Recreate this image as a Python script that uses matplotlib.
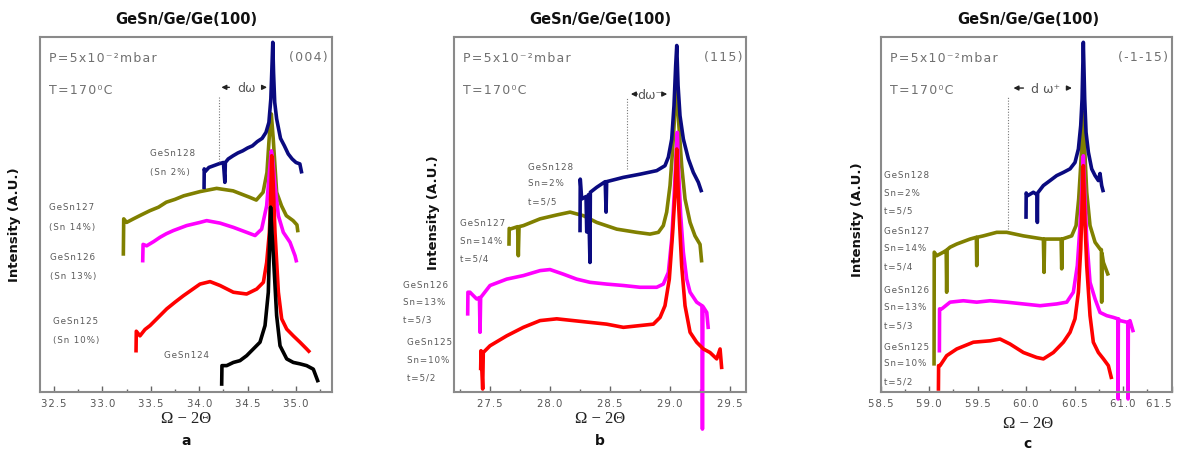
import matplotlib
matplotlib.use("Agg")
import matplotlib.pyplot as plt
from matplotlib.ticker import MultipleLocator

# ---------------- data (arbitrary intensity units) ----------------
# Panel a : (004)
a128_x = [34.05, 34.052, 34.06, 34.10, 34.15, 34.20, 34.25, 34.265, 34.27, 34.30, 34.35, 34.40, 34.45, 34.50,
          34.55, 34.60, 34.65, 34.69, 34.72, 34.74, 34.752, 34.76, 34.768, 34.78, 34.80, 34.84, 34.88,
          34.92, 34.96, 35.00, 35.04, 35.06]
a128_y = [57.1, 62.8, 62.0, 63.2, 63.7, 64.2, 64.6, 59.0, 64.6, 65.6, 66.5, 67.3, 67.9, 68.7,
          69.3, 70.5, 71.4, 73.1, 75.9, 82.5, 91.9, 98.5, 90.0, 81.6, 76.9, 71.4, 69.3,
          67.0, 65.6, 64.6, 64.2, 61.5]

a127_x = [33.216, 33.22, 33.25, 33.32, 33.40, 33.49, 33.58, 33.66, 33.75, 33.84, 34.01, 34.18, 34.35,
          34.52, 34.59, 34.66, 34.70, 34.72, 34.735, 34.745, 34.765, 34.80, 34.85, 34.90, 34.97,
          35.01, 35.02]
a127_y = [38.3, 48.7, 47.7, 48.7, 49.8, 51.0, 52.0, 53.4, 54.2, 55.2, 56.4, 57.3, 56.6,
          54.8, 54.0, 56.2, 61.8, 70.3, 76.0, 78.3, 71.2, 56.2, 52.4, 49.6, 48.2,
          47.0, 44.9]

a126_x = [33.416, 33.42, 33.457, 33.53, 33.595, 33.66, 33.733, 33.87, 34.008, 34.077, 34.215, 34.353,
          34.49, 34.577, 34.645, 34.697, 34.725, 34.745, 34.755, 34.783, 34.818, 34.869, 34.938,
          34.99, 35.007]
a126_y = [36.4, 41.5, 41.1, 42.3, 43.5, 44.5, 45.4, 46.8, 47.7, 48.2, 47.5, 46.3,
          44.9, 44.0, 45.8, 52.4, 61.8, 67.9, 66.5, 58.1, 49.6, 44.9, 42.1,
          38.3, 36.4]

a125_x = [33.347, 33.35, 33.388, 33.44, 33.492, 33.58, 33.664, 33.75, 33.836, 34.008, 34.112, 34.215,
          34.353, 34.49, 34.594, 34.663, 34.697, 34.725, 34.738, 34.749, 34.76, 34.783, 34.818,
          34.852, 34.904, 34.972, 35.041, 35.11, 35.145]
a125_y = [11.0, 17.0, 15.7, 17.5, 18.6, 21.0, 23.3, 25.2, 27.0, 30.3, 31.0, 29.9,
          28.0, 27.5, 28.9, 30.8, 36.4, 44.9, 54.3, 66.5, 62.0, 44.9, 28.0,
          20.5, 17.6, 15.7, 13.9, 12.0, 11.0]

a124_x = [34.232, 34.235, 34.284, 34.353, 34.421, 34.49, 34.559, 34.628, 34.68, 34.714, 34.73, 34.738,
          34.745, 34.772, 34.80, 34.835, 34.904, 34.972, 35.041, 35.11, 35.179, 35.23]
a124_y = [1.6, 7.3, 7.3, 8.2, 8.7, 10.1, 12.0, 13.9, 18.6, 28.0, 44.9, 52.0,
          48.0, 35.5, 21.4, 12.9, 9.2, 8.2, 7.8, 7.3, 6.3, 2.6]

# Panel b : (115)
b128_x = [28.25, 28.252, 28.264, 28.30, 28.306, 28.32, 28.333, 28.336, 28.389, 28.46, 28.467, 28.472,
          28.611, 28.75, 28.889, 28.958, 28.986, 29.014, 29.033, 29.047, 29.056, 29.067, 29.083,
          29.111, 29.153, 29.194, 29.236, 29.264]
b128_y = [44.9, 59.9, 54.3, 55.0, 45.0, 55.5, 36.4, 56.2, 57.6, 59.2, 50.6, 59.2,
          60.4, 61.3, 62.3, 63.7, 66.1, 71.2, 80.6, 91.9, 97.6, 86.3, 77.8,
          71.2, 65.6, 61.8, 59.0, 56.2]

b127_x = [27.658, 27.66, 27.667, 27.73, 27.736, 27.742, 27.778, 27.917, 28.056, 28.167, 28.278, 28.389,
          28.556, 28.722, 28.833, 28.903, 28.944, 28.972, 29.0, 29.022, 29.042, 29.056, 29.072,
          29.097, 29.125, 29.167, 29.208, 29.25, 29.264]
b127_y = [41.1, 46.0, 45.8, 46.5, 38.3, 46.5, 46.8, 48.7, 49.8, 50.6, 49.6, 47.7,
          45.8, 44.9, 44.4, 44.9, 46.8, 50.6, 58.1, 68.4, 79.7, 87.2, 75.9,
          63.7, 54.3, 47.7, 43.9, 41.5, 36.4]

b126_x = [27.314, 27.316, 27.333, 27.389, 27.412, 27.417, 27.422, 27.5, 27.639, 27.778, 27.917, 28.0,
          28.111, 28.222, 28.333, 28.472, 28.611, 28.75, 28.889, 28.944, 28.986, 29.014, 29.033,
          29.05, 29.061, 29.072, 29.089, 29.111, 29.139, 29.167, 29.222, 29.266, 29.27, 29.274,
          29.306, 29.319]
b126_y = [21.4, 28.0, 28.0, 26.1, 26.5, 16.7, 26.5, 29.9, 31.7, 32.7, 34.1, 34.4,
          33.1, 31.7, 30.8, 30.3, 29.9, 29.4, 29.4, 30.3, 33.6, 43.0, 54.3,
          66.5, 73.1, 61.8, 49.6, 39.3, 31.7, 28.0, 25.2, 24.2, -10.6, 24.0,
          22.3, 17.6]

b125_x = [27.422, 27.425, 27.439, 27.444, 27.5, 27.639, 27.778, 27.917, 28.056, 28.194, 28.333, 28.472,
          28.611, 28.75, 28.861, 28.917, 28.958, 28.994, 29.022, 29.042, 29.056, 29.072, 29.097,
          29.125, 29.167, 29.222, 29.278, 29.333, 29.389, 29.417, 29.431]
b125_y = [6.0, 11.5, 0.7, 11.0, 12.9, 15.7, 18.1, 20.0, 20.5, 20.0, 19.5, 19.0,
          18.1, 18.6, 19.0, 20.9, 24.2, 31.7, 44.9, 56.2, 68.4, 52.4, 35.5,
          24.2, 16.7, 13.9, 12.0, 11.0, 9.2, 12.0, 6.3]

# Panel c : (-1-15)
c128_x = [59.998, 60.0, 60.012, 60.074, 60.112, 60.115, 60.118, 60.177, 60.246, 60.314, 60.383, 60.452,
          60.503, 60.538, 60.562, 60.576, 60.589, 60.603, 60.617, 60.641, 60.675, 60.71, 60.744,
          60.761, 60.778, 60.796]
c128_y = [48.7, 56.0, 55.2, 56.2, 55.5, 47.7, 56.0, 58.1, 59.5, 60.9, 61.8, 62.8,
          64.6, 68.4, 75.0, 82.5, 98.5, 82.5, 73.1, 67.5, 62.8, 60.9, 59.5,
          61.5, 58.1, 56.2]

c127_x = [59.05, 59.052, 59.077, 59.146, 59.175, 59.18, 59.185, 59.215, 59.284, 59.421, 59.486, 59.49,
          59.494, 59.558, 59.696, 59.799, 59.971, 60.177, 60.184, 60.19, 60.314, 60.36, 60.366,
          60.372, 60.469, 60.514, 60.541, 60.562, 60.576, 60.589, 60.603, 60.624, 60.658, 60.71,
          60.761, 60.775, 60.778, 60.781, 60.796, 60.847]
c127_y = [7.3, 39.3, 38.3, 39.3, 39.8, 28.0, 40.0, 40.7, 41.6, 43.0, 43.5, 35.5,
          43.5, 43.9, 44.9, 44.9, 43.9, 43.0, 33.6, 43.0, 43.0, 43.0, 34.6,
          43.0, 43.9, 46.8, 54.3, 63.7, 71.2, 78.7, 68.4, 56.2, 46.8, 42.1,
          40.2, 40.0, 25.2, 39.0, 36.4, 32.7]

c126_x = [59.105, 59.107, 59.129, 59.215, 59.352, 59.49, 59.627, 59.799, 59.971, 60.143, 60.314, 60.418,
          60.486, 60.527, 60.555, 60.576, 60.589, 60.603, 60.624, 60.658, 60.71, 60.761, 60.83,
          60.899, 60.944, 60.947, 60.95, 60.967, 61.047, 61.05, 61.053, 61.07, 61.105]
c126_y = [11.0, 23.3, 23.3, 25.2, 25.6, 25.2, 25.6, 25.2, 24.7, 24.2, 24.7, 25.2,
          28.0, 35.5, 46.8, 58.1, 66.5, 56.2, 43.0, 30.8, 26.1, 22.3, 21.4,
          20.9, 20.5, -2.1, 20.5, 20.0, 19.5, -2.1, 19.5, 20.0, 16.7]

c125_x = [59.095, 59.097, 59.112, 59.18, 59.284, 59.455, 59.627, 59.73, 59.833, 59.971, 60.108, 60.177,
          60.28, 60.383, 60.452, 60.503, 60.538, 60.562, 60.576, 60.589, 60.603, 60.624, 60.658,
          60.692, 60.744, 60.796, 60.847, 60.881]
c125_y = [0.2, 7.3, 7.3, 10.1, 12.0, 13.9, 14.3, 14.8, 13.4, 11.0, 9.6, 9.2,
          11.0, 13.9, 16.7, 20.5, 28.0, 40.2, 52.4, 63.7, 49.6, 35.5, 21.4,
          13.9, 11.0, 9.2, 7.3, 3.5]

sample_names = ["GeSn128", "GeSn127", "GeSn126", "GeSn125", "GeSn124"]
sn_a = ["(Sn 2%)", "(Sn 14%)", "(Sn 13%)", "(Sn 10%)"]
sn_bc = ["Sn=2%", "Sn=14%", "Sn=13%", "Sn=10%"]
t_bc = ["t=5/5", "t=5/4", "t=5/3", "t=5/2"]
reflections = ["(004)", "(115)", "(-1-15)"]
panel_letters = ["a", "b", "c"]
xticks_a = [32.5, 33.0, 33.5, 34.0, 34.5, 35.0]
xticks_b = [27.5, 28.0, 28.5, 29.0, 29.5]
xticks_c = [58.5, 59.0, 59.5, 60.0, 60.5, 61.0, 61.5]

# ---------------- style ----------------
W, H = 1182, 452
NAVY, OLIVE, MAG, RED, BLK = "#0a0a80", "#808000", "#ff00ff", "#ff0000", "#000000"
GRAY = "#8a8a8a"
TXT = "#707070"
LBL = "#5a5a5a"

plt.rcParams["font.family"] = ["DejaVu Sans"]

fig = plt.figure(figsize=(W / 100, H / 100), dpi=100)


def spaced(s):
    return "\u200a".join(s)


def fx(px):
    return px / W


def fy(py):
    return 1 - py / H


def make_axes(left_px, right_px, xlim, xticks):
    ax = fig.add_axes([fx(left_px), fy(392.5), (right_px - left_px) / W, 354.5 / H])
    ax.set_xlim(*xlim)
    ax.set_ylim(0, 100)
    ax.set_yticks([])
    ax.set_xticks(xticks)
    ax.set_xticklabels([spaced(f"{t:.1f}") for t in xticks])
    ax.xaxis.set_minor_locator(MultipleLocator(0.25))
    ax.tick_params(axis="x", which="major", direction="in", length=4, width=1.0,
                   color="#666666", labelsize=7.3, labelcolor="#555555", pad=5)
    ax.tick_params(axis="x", which="minor", direction="in", length=2.5, width=1.0, color="#666666")
    for s in ax.spines.values():
        s.set_color(GRAY)
        s.set_linewidth(1.5)
    return ax


def curve(ax, x, y, color, clip=True):
    ax.plot(x, y, color=color, lw=2.6, solid_joinstyle="round", solid_capstyle="butt", clip_on=clip)


def dotted_and_arrow(ax, xline, ytop, ybot, yarr, x_l0, x_l1, x_r0, x_r1, xtxt, label):
    ax.plot([xline, xline], [ybot, ytop], color="#777777", lw=0.8, ls=(0, (1, 1.5)))
    ax.annotate("", xy=(x_l1, yarr), xytext=(x_l0, yarr),
                arrowprops=dict(arrowstyle="-|>", color="#222222", lw=1.0, mutation_scale=7))
    ax.annotate("", xy=(x_r1, yarr), xytext=(x_r0, yarr),
                arrowprops=dict(arrowstyle="-|>", color="#222222", lw=1.0, mutation_scale=7))
    ax.text(xtxt, yarr, label, ha="center", va="center", fontsize=9, color="#555555")


def common_text(left_px, right_px, refl):
    fig.text(fx(left_px + 9), fy(58), spaced("P=5x10⁻²mbar"), fontsize=9, color=TXT, va="center")
    fig.text(fx(left_px + 9), fy(90), spaced("T=170⁰C"), fontsize=9, color=TXT, va="center")
    fig.text(fx(right_px - 4), fy(58), spaced(refl), fontsize=9, color=TXT, va="center", ha="right")


def sample_text(px, py, s):
    fig.text(fx(px), fy(py), spaced(s), fontsize=6.3, color=LBL, va="center", ha="left")


# ---------------- panel a ----------------
axa = make_axes(40, 332, (32.355, 35.372), xticks_a)
curve(axa, a127_x, a127_y, OLIVE)
curve(axa, a126_x, a126_y, MAG)
curve(axa, a125_x, a125_y, RED)
curve(axa, a124_x, a124_y, BLK)
curve(axa, a128_x, a128_y, NAVY)
dotted_and_arrow(axa, 34.205, 83.4, 64.7, 85.8, 34.34, 34.20, 34.63, 34.73, 34.49, "dω")
common_text(40, 332, reflections[0])
sample_text(150, 153, sample_names[0]); sample_text(150, 173, sn_a[0])
sample_text(49, 208, sample_names[1]); sample_text(49, 228, sn_a[1])
sample_text(50, 258, sample_names[2]); sample_text(50, 277, sn_a[2])
sample_text(53, 322, sample_names[3]); sample_text(53, 341, sn_a[3])
sample_text(164, 355, sample_names[4])

# ---------------- panel b ----------------
axb = make_axes(454, 746, (27.2, 29.633), xticks_b)
curve(axb, b127_x, b127_y, OLIVE)
curve(axb, b128_x, b128_y, NAVY)
curve(axb, b126_x, b126_y, MAG, clip=False)
curve(axb, b125_x, b125_y, RED)
dotted_and_arrow(axb, 28.64, 83.1, 62.7, 83.9, 28.75, 28.65, 28.92, 29.0, 28.83, "dω⁻")
common_text(454, 746, reflections[1])
sample_text(528, 168, sample_names[0]); sample_text(528, 184, sn_bc[0]); sample_text(528, 202, t_bc[0])
sample_text(460, 224, sample_names[1]); sample_text(460, 242, sn_bc[1]); sample_text(460, 259, t_bc[1])
sample_text(403, 286, sample_names[2]); sample_text(403, 303, sn_bc[2]); sample_text(403, 320, t_bc[2])
sample_text(407, 343, sample_names[3]); sample_text(407, 361, sn_bc[3]); sample_text(407, 378, t_bc[3])

# ---------------- panel c ----------------
axc = make_axes(880.7, 1171.7, (58.5, 61.5), xticks_c)
axc.get_xticklabels()[-1].set_horizontalalignment("right")
curve(axc, c127_x, c127_y, OLIVE)
curve(axc, c128_x, c128_y, NAVY)
curve(axc, c126_x, c126_y, MAG, clip=False)
curve(axc, c125_x, c125_y, RED)
dotted_and_arrow(axc, 59.816, 83.4, 45.8, 85.6, 60.0, 59.84, 60.4, 60.5, 60.2, "d ω⁺")
common_text(880.7, 1171.7, reflections[2])
for i, py in enumerate([176, 232, 291, 347]):
    sample_text(884, py, sample_names[i])
    sample_text(884, py + 17, sn_bc[i])
    sample_text(884, py + 35, t_bc[i])

# ---------------- titles, axis labels, panel letters ----------------
for cx, ylab_px, ylab_py, xlab_py, let_py, letter in [
        (186, 15, 225, 419, 441, panel_letters[0]),
        (600, 433, 213, 419, 441, panel_letters[1]),
        (1028, 857, 220, 424, 444, panel_letters[2])]:
    fig.text(fx(cx), fy(20), "GeSn/Ge/Ge(100)", fontsize=10.5, fontweight="bold",
             ha="center", va="center", color="#111111")
    fig.text(fx(ylab_px), fy(ylab_py), "Intensity (A.U.)", rotation=90, fontsize=9.5,
             fontweight="bold", ha="center", va="center", color="#111111")
    fig.text(fx(cx), fy(xlab_py), "Ω − 2Θ", fontsize=12, family="Liberation Serif",
             ha="center", va="center", color="#222222")
    fig.text(fx(cx), fy(let_py), letter, fontsize=10, fontweight="bold",
             ha="center", va="center", color="#111111")

fig.savefig("out.png", dpi=100)
